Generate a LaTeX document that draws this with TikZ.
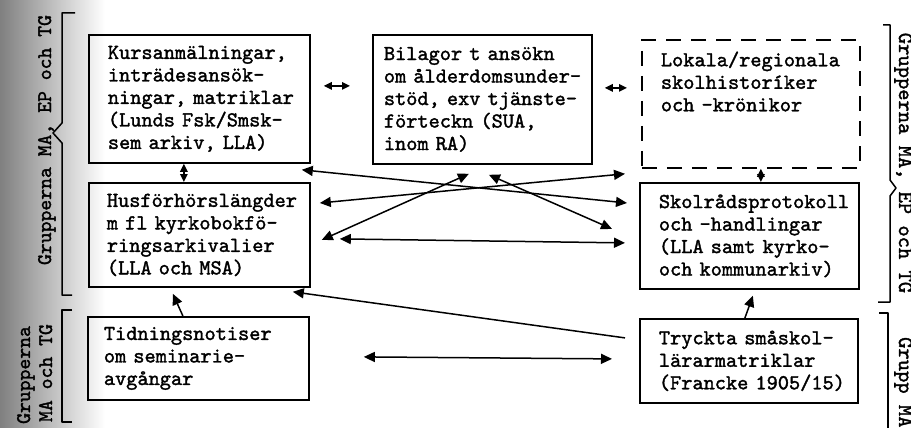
\documentclass[tikz,border=0pt]{standalone}
\usepackage{fontspec}
\usetikzlibrary{arrows.meta,calc}
\newfontfamily\twfont{lmmono10-regular}[Extension=.otf, FakeBold=1.6]
\hyphenpenalty=10000 \exhyphenpenalty=10000 \hbadness=10000 \hfuzz=200pt
\begin{document}
\begin{tikzpicture}[x=1pt,y=-1pt,
  box/.style={draw, line width=1.8pt, anchor=north west, align=left, inner ysep=0pt,
    font=\fontsize{21.3}{22.5}\selectfont\twfont},
  dashbox/.style={box, dash pattern=on 15pt off 10pt},
  arr/.style={line width=1.5pt, {Triangle[length=11pt,width=10pt]}-{Triangle[length=11pt,width=10pt]}},
  arrs/.style={line width=1.5pt, {Triangle[length=8pt,width=7.5pt]}-{Triangle[length=8pt,width=7.5pt]}},
  one/.style={line width=1.5pt, -{Triangle[length=11pt,width=10pt]}},
  brace/.style={line width=1.5pt, line join=round},
  lbl/.style={inner sep=0pt, font=\fontsize{20.7}{21}\selectfont\twfont},
  rlbl/.style={inner sep=0pt, font=\fontsize{21.5}{21}\selectfont\twfont}
]
\useasboundingbox (0,0) rectangle (911,428);
\shade[left color=black!50, right color=white] (0,0) rectangle (105,428);

% boxes
\node[box, minimum width=221pt, minimum height=128pt, text width=183pt, inner xsep=19pt] (b1) at (88,34)
  {Kursanmälningar,\\inträdesansök-\\ningar,~matriklar\\(Lunds~Fsk/Smsk-\\sem~arkiv,~LLA)};
\node[box, minimum width=221pt, minimum height=104pt, text width=185pt, inner xsep=18pt] (b2) at (88,182)
  {Husförhörslängder\\m~fl~kyrkobokfö-\\ringsarkivalier\\(LLA~och~MSA)};
\node[box, minimum width=221pt, minimum height=83pt, text width=189pt, inner xsep=16pt] (b3) at (87,316)
  {Tidningsnotiser\\om~seminarie-\\avgångar};
\node[box, minimum width=219pt, minimum height=129pt, text width=197pt, inner xsep=11pt] (bil) at (372,34)
  {Bilagor~t~ansökn\\om~ålderdomsunder-\\stöd,~exv~tjänste-\\förteckn~(SUA,\\inom~RA)};
\node[dashbox, minimum width=218pt, minimum height=128pt, text width=180pt, inner xsep=19pt] (lok) at (641,39)
  {Lokala/regionala\\skolhistoríker\\och~-krönikor\\\mbox{}\\\mbox{}};
\node[box, minimum width=219pt, minimum height=106pt, text width=181pt, inner xsep=19pt] (sk) at (639,182)
  {Skolrådsprotokoll\\och~-handlingar\\(LLA~samt~kyrko-\\och~kommunarkiv)};
\node[box, minimum width=218pt, minimum height=84pt, text width=180pt, inner xsep=19pt] (tr) at (639,318)
  {Tryckta~småskol-\\lärarmatriklar\\(Francke~1905/15)};

% braces and group labels
\draw[brace] (75,13) -- (62,13) -- (62,123) -- (53,133) -- (62,143) -- (62,295) -- (72,295);
\node[lbl, rotate=90, anchor=base] (gl1) at (51,140) {Grupperna MA, EP och TG};
\draw[brace] (72,310) -- (62,310) -- (62,422) -- (72,422);
\node[lbl, rotate=90, anchor=base] (gl2a) at (30,375) {Grupperna};
\node[lbl, rotate=90, anchor=base] (gl2b) at (52,373) {MA och TG};
\draw[brace] (883,25) -- (890,25) -- (890,180) -- (896,188) -- (890,196) -- (890,302) -- (878,302);
\node[rlbl, rotate=-90, anchor=base] (gr1) at (899,163) {Grupperna MA,\hspace{12pt}EP och TG};
\draw[brace] (879,313) -- (888,313) -- (888,440);
\node[rlbl, rotate=-90, anchor=base west] (gr2) at (899,337) {Grupp MA};

% connectors
\draw[arrs] ($(b1.east)+(13,-13)$) -- ($(bil.west)+(-22,-13.5)$);
\draw[arrs] ($(bil.east)+(12,-11.5)$) -- ($(lok.west)+(-14,-16)$);
\draw[arrs] ($(b1.south)+(-15.5,0)$) -- ($(b2.north)+(-15.5,0)$);
\draw[arrs] ($(lok.south)+(10,0)$) -- ($(sk.north)+(11.5,0)$);
\draw[one] ($(b3.north)+(-15.5,0)$) -- ($(b2.south)+(-26.5,6)$);
\draw[one] ($(tr.north)+(-4,0)$) -- ($(sk.south)+(3.5,6)$);
\draw[arr] ($(b3.east)+(54,-1.5)$) -- ($(tr.west)+(-27,-2)$);
\draw[arr] ($(b2.east)+(29,4)$) -- ($(sk.west)+(-14,7)$);
\draw[one] ($(tr.west)+(-14,-23)$) -- ($(b2.south east)+(-18,4)$);
\draw[arr] ($(b1.south east)+(-9,6)$) -- ($(sk.north west)+(-12,21)$);
\draw[arr] ($(b2.north east)+(9,21)$) -- ($(lok.south west)+(-16,5)$);
\draw[arr] ($(b2.east)+(11,5)$) -- ($(bil.south)+(-13.5,9)$);
\draw[arr] ($(bil.south)+(6.5,10)$) -- ($(sk.west)+(-27,-7)$);
\end{tikzpicture}
\end{document}
